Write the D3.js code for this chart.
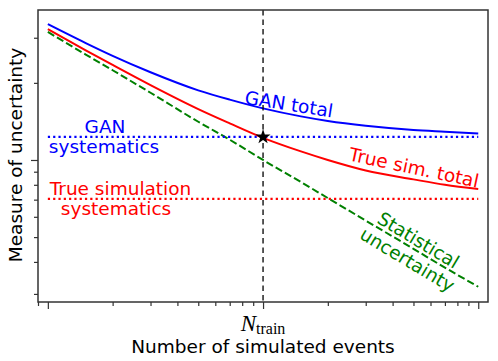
<!DOCTYPE html>
<html>
<head>
  <meta charset="UTF-8">
  <title>Measure of uncertainty</title>
  <script src="https://d3js.org/d3.v7.min.js"></script>
  <style>
    body { margin: 0; background: #fff; }
    text { font-family: "DejaVu Sans", sans-serif; }
  </style>
</head>
<body>
  <div id="chart"></div>
  <script>
    // number of simulated events (arbitrary units, N_train = 10)
    const nEvents = [1, 1.5, 2, 3, 5, 7, 10, 15, 20, 30, 50, 70, 100];
    const statUnc = [3.16, 2.58, 2.24, 1.83, 1.41, 1.20, 1.00, 0.82, 0.71, 0.58, 0.45, 0.38, 0.32];
    const ganTotal = [3.39, 2.86, 2.55, 2.20, 1.87, 1.72, 1.59, 1.48, 1.42, 1.36, 1.31, 1.29, 1.27];
    const trueTotal = [3.24, 2.68, 2.35, 1.96, 1.58, 1.39, 1.22, 1.08, 1.00, 0.91, 0.84, 0.80, 0.77];
    const ganSyst = 1.23;
    const trueSyst = 0.705;
    const nTrain = 10;

    const xMajor = [1, 10, 100];
    const xMinor = [0.9, 2, 3, 4, 5, 6, 7, 8, 9, 20, 30, 40, 50, 60, 70, 80, 90];
    const yMajor = [1];
    const yMinor = [0.3, 0.4, 0.5, 0.6, 0.7, 0.8, 0.9, 2, 3];

    const W = 498, H = 361;
    const margin = { top: 10, right: 10, bottom: 59, left: 38 };
    const width = W - margin.left - margin.right;
    const height = H - margin.top - margin.bottom;

    const svg = d3.select("#chart").append("svg")
      .attr("width", W)
      .attr("height", H);

    const g = svg.append("g")
      .attr("transform", "translate(" + margin.left + "," + margin.top + ")");

    const x = d3.scaleLog().domain([0.9, 111]).range([0, width]);
    const y = d3.scaleLog().domain([0.279, 3.85]).range([height, 0]);

    const line = d3.line()
      .x(d => x(d[0]))
      .y(d => y(d[1]))
      .curve(d3.curveMonotoneX);

    const zip = vals => nEvents.map((n, i) => [n, vals[i]]);

    // axes (ticks only)
    function styleAxis(sel) {
      sel.select(".domain").remove();
      sel.selectAll(".tick line").attr("stroke", "#333").attr("stroke-width", 1.2);
    }
    g.append("g").attr("transform", "translate(0," + height + ")")
      .call(d3.axisBottom(x).tickValues(xMinor).tickSize(4).tickFormat(""))
      .call(styleAxis);
    g.append("g").attr("transform", "translate(0," + height + ")")
      .call(d3.axisBottom(x).tickValues(xMajor).tickSize(7).tickFormat(""))
      .call(styleAxis);
    g.append("g")
      .call(d3.axisLeft(y).tickValues(yMinor).tickSize(4).tickFormat(""))
      .call(styleAxis);
    g.append("g")
      .call(d3.axisLeft(y).tickValues(yMajor).tickSize(7).tickFormat(""))
      .call(styleAxis);

    // N_train tick label
    const nLab = g.append("text")
      .attr("x", x(nTrain))
      .attr("y", 321)
      .attr("text-anchor", "middle")
      .style("font-family", "'Liberation Serif', serif")
      .attr("fill", "#000");
    nLab.append("tspan").attr("font-style", "italic").attr("font-size", 23).text("N");
    nLab.append("tspan").attr("font-size", 16).attr("dy", 3).text("train");

    // curves
    g.append("path").datum(zip(ganTotal)).attr("d", line)
      .attr("fill", "none").attr("stroke", "#0000ff").attr("stroke-width", 2);
    g.append("path").datum(zip(trueTotal)).attr("d", line)
      .attr("fill", "none").attr("stroke", "#ff0000").attr("stroke-width", 2);
    g.append("path").datum(zip(statUnc)).attr("d", line)
      .attr("fill", "none").attr("stroke", "#008000").attr("stroke-width", 2)
      .attr("stroke-dasharray", "7.4,3.2");

    g.append("line")
      .attr("x1", x(1)).attr("x2", x(100))
      .attr("y1", y(ganSyst)).attr("y2", y(ganSyst))
      .attr("stroke", "#0000ff").attr("stroke-width", 2.2)
      .attr("stroke-dasharray", "2.2,3.1");
    g.append("line")
      .attr("x1", x(1)).attr("x2", x(100))
      .attr("y1", y(trueSyst)).attr("y2", y(trueSyst))
      .attr("stroke", "#ff0000").attr("stroke-width", 2.2)
      .attr("stroke-dasharray", "2.2,3.1");

    g.append("line")
      .attr("x1", x(nTrain)).attr("x2", x(nTrain))
      .attr("y1", 0).attr("y2", height)
      .attr("stroke", "#000").attr("stroke-width", 1.3)
      .attr("stroke-dasharray", "5.5,4");

    g.append("path")
      .attr("d", d3.symbol().type(d3.symbolStar).size(70))
      .attr("transform", "translate(" + x(nTrain) + "," + y(ganSyst) + ")")
      .attr("fill", "#000");

    // frame
    g.append("rect")
      .attr("width", width).attr("height", height)
      .attr("fill", "none").attr("stroke", "#333").attr("stroke-width", 1.5);

    // annotations
    const fs = 18.5;
    function label(txt, cx, cy, rot, color) {
      g.append("text")
        .attr("transform", "translate(" + (cx - margin.left) + "," + (cy - margin.top) + ") rotate(" + rot + ")")
        .attr("text-anchor", "middle")
        .attr("dy", "0.36em")
        .attr("font-size", fs)
        .attr("fill", color)
        .text(txt);
    }
    label("GAN total", 289, 104, 9, "#0000ff");
    label("True sim. total", 414, 167.5, 12, "#ff0000");
    label("GAN", 105, 126, 0, "#0000ff");
    label("systematics", 104, 146, 0, "#0000ff");
    label("True simulation", 120.5, 188, 0, "#ff0000");
    label("systematics", 116, 208, 0, "#ff0000");
    label("Statistical", 418.5, 240, 31, "#008000");
    label("uncertainty", 407.5, 259.5, 31, "#008000");

    // axis titles
    svg.append("text")
      .attr("x", 263).attr("y", 353)
      .attr("text-anchor", "middle")
      .attr("font-size", fs)
      .text("Number of simulated events");
    svg.append("text")
      .attr("transform", "translate(22,155) rotate(-90)")
      .attr("text-anchor", "middle")
      .attr("font-size", fs)
      .text("Measure of uncertainty");
  </script>
</body>
</html>
